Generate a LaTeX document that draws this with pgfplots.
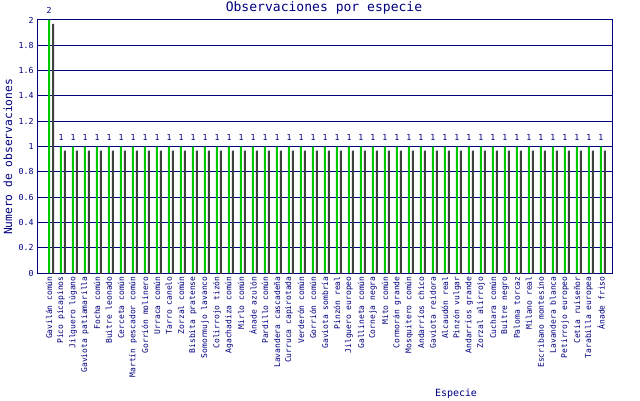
\documentclass[border=0pt]{standalone}
\usepackage{fontspec}
\setmainfont{DejaVu Sans Mono}
\usepackage{pgfplots}
\usepackage{pgfplotstable}
\pgfplotsset{compat=1.18}
\definecolor{navy}{RGB}{0,0,128}
\definecolor{bargreen}{RGB}{0,200,0}
\definecolor{shadow}{RGB}{64,64,64}
\pgfplotstableread{
i n
0 2
1 1
2 1
3 1
4 1
5 1
6 1
7 1
8 1
9 1
10 1
11 1
12 1
13 1
14 1
15 1
16 1
17 1
18 1
19 1
20 1
21 1
22 1
23 1
24 1
25 1
26 1
27 1
28 1
29 1
30 1
31 1
32 1
33 1
34 1
35 1
36 1
37 1
38 1
39 1
40 1
41 1
42 1
43 1
44 1
45 1
46 1
}\obs
\begin{document}
\begin{tikzpicture}[x=1bp,y=1bp]
\useasboundingbox (0,0) rectangle (640,400);
\begin{axis}[
  at={(37bp,127bp)}, anchor=south west,
  scale only axis, width=575bp, height=253bp,
  xmin=-1, xmax=46.92, ymin=0, ymax=2,
  ytick={0,0.2,0.4,0.6,0.8,1,1.2,1.4,1.6,1.8,2},
  /pgf/number format/assume math mode=true,
  yticklabel style={font=\fontsize{8.3}{9}\selectfont, text=navy},
  ymajorgrids, grid style={navy, line width=1bp},
  axis line style={navy, line width=1bp},
  major tick length=0pt,
  xtick={0,...,46},
  xticklabels={Gavilán común, Pico picapinos, Jilguero lúgano, Gaviota patiamarilla, Focha común, Buitre leonado, Cerceta común, Martín pescador común, Gorrión molinero, Urraca común, Tarro canelo, Zorzal común, Bisbita pratense, Somormujo lavanco, Colirrojo tizón, Agachadiza común, Mirlo común, Ánade azulón, Pardillo común, Lavandera cascadeña, Curruca capirotada, Verderón común, Gorrión común, Gaviota sombría, Pinzón real, Jilguero europeo, Gallineta común, Corneja negra, Mito común, Cormorán grande, Mosquitero común, Andarríos chico, Gaviota reidora, Alcaudón real, Pinzón vulgar, Andarríos grande, Zorzal alirrojo, Cuchara común, Buitre negro, Paloma torcaz, Milano real, Escribano montesino, Lavandera blanca, Petirrojo europeo, Cetia ruiseñor, Tarabilla europea, Ánade friso},
  xticklabel style={rotate=90, anchor=east, font=\fontsize{8}{9}\selectfont, text=navy, xshift=0bp},
]
\addplot[ybar, bar width=2bp, bar shift=0pt, fill=shadow, draw=none, xshift=4bp, yshift=-4bp] table[x=i,y=n]{\obs};
\addplot[ybar, bar width=2bp, bar shift=0pt, fill=bargreen, draw=none,
  nodes near coords,
  nodes near coords style={font=\fontsize{8.3}{9}\selectfont, text=navy, anchor=south, yshift=2.5bp}] table[x=i,y=n]{\obs};
\end{axis}
\node[font=\fontsize{13.1}{15}\selectfont, text=navy] at (324,392) {Observaciones por especie};
\node[font=\fontsize{11.3}{13}\selectfont, text=navy, rotate=90] at (8,243) {Numero de observaciones};
\node[font=\fontsize{10}{12}\selectfont, text=navy] at (456,6) {Especie};
\end{tikzpicture}
\end{document}
